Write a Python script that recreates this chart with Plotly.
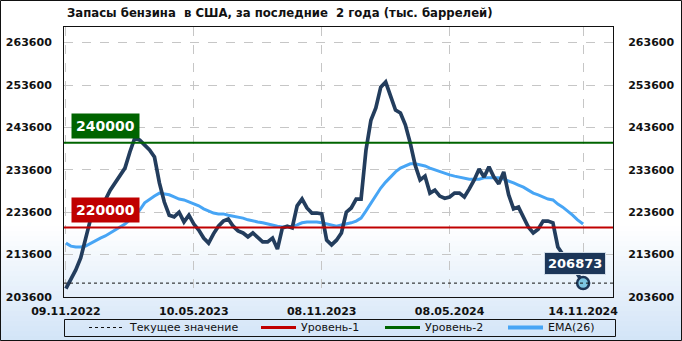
import plotly.graph_objects as go
import pandas as pd

# ---------------- data ----------------
title = "Запасы бензина  в США, за последние  2 года (тыс. баррелей)"
dates = list(pd.date_range("2022-11-09", periods=105, freq="7D").strftime("%Y-%m-%d")) + ["2024-11-14"]

stocks = [
    205600, 207600, 210000, 212800, 217500, 222200, 226500, 223600, 226500, 228800,
    230500, 232100, 234000, 237800, 241100, 240600, 239400, 238300, 236600, 230500,
    226000, 222900, 222500, 223600, 221300, 222900, 220800, 219400, 217500, 216300,
    218500, 220300, 221500, 222000, 220300, 219200, 218700, 217800, 218700, 217500,
    216600, 216600, 217500, 214900, 219900, 220300, 219900, 225100, 226700, 224600,
    223400, 223400, 223200, 217000, 215900, 217000, 218700, 223600, 224600, 226700,
    226700, 238300, 245300, 248200, 253100, 254300, 250800, 247700, 247000, 244200,
    239900, 234700, 231200, 232100, 228100, 228800, 227400, 226900, 227200, 228100,
    228100, 227200, 229100, 231200, 233800, 231900, 234300, 231900, 230300, 233100,
    227700, 224400, 224800, 222200, 220100, 218700, 219600, 221500, 221500, 221100,
    215400, 213700, 212600, 211400, 209000, 206873,
]

ema26 = [
    216300, 215600, 215400, 215400, 215600, 216300, 217000, 217500, 218000, 218700,
    219200, 219900, 220800, 221800, 222900, 224100, 225800, 226700, 227400, 228100,
    227900, 227700, 227200, 226700, 226500, 226000, 225500, 225100, 224400, 223900,
    223400, 223200, 223200, 222900, 222700, 222500, 222200, 221800, 221500, 221300,
    221100, 220800, 220600, 220300, 220100, 220100, 220300, 220600, 221100, 221300,
    221300, 221300, 221100, 220800, 220600, 220300, 220600, 220800, 221100, 221500,
    222200, 223900, 225800, 227700, 229300, 230700, 231900, 233100, 234000, 234500,
    235000, 235000, 234700, 234500, 234000, 233600, 233100, 232800, 232400, 232100,
    231900, 231700, 231400, 231400, 231400, 231700, 231700, 231700, 231700, 231400,
    231000, 230500, 230000, 229500, 228800, 228100, 227700, 227200, 226700, 226500,
    225500, 224800, 223900, 222900, 221800, 220800,
]

current_value = 206873
level1 = 220000
level2 = 240000
y_ticks = [203600, 213600, 223600, 233600, 243600, 253600, 263600]
x_tick_idx = [0, 26, 52, 78, 105]
legend_names = ["Текущее значение", "Уровень-1", "Уровень-2", "EMA(26)"]

# ---------------- style ----------------
W, H = 682, 341
L, R, T, B = 64, 69, 27, 44
PW, PH = W - L - R, H - T - B
FONT = "DejaVu Sans"
NAVY = "#233d5d"
BLUE = "#47a5f5"
RED = "#c00000"
GREEN = "#006400"
GRID = "#c6c6c6"


def px(x):
    return (x - L) / PW


def py(y):
    return (H - B - y) / PH


y_range = [203600, 267280]
x_range = ["2022-11-06 06:00", "2024-12-26 12:00"]

fig = go.Figure()

fig.add_trace(go.Scatter(x=dates, y=ema26, mode="lines", line=dict(color=BLUE, width=3),
                         showlegend=False, hoverinfo="skip"))
fig.add_trace(go.Scatter(x=dates, y=stocks, mode="lines", line=dict(color=NAVY, width=3.7),
                         showlegend=False))
fig.add_trace(go.Scatter(x=[dates[-1]], y=[current_value], mode="markers",
                         marker=dict(size=12, color="#7cc6e2", line=dict(color="#1c3658", width=2.5)),
                         showlegend=False))
# invisible trace for the right-hand axis
fig.add_trace(go.Scatter(x=[dates[0]], y=[y_ticks[0]], yaxis="y2", mode="markers",
                         marker=dict(opacity=0), showlegend=False, hoverinfo="skip"))

shapes = []
# background gradient (bottom part of the figure)
top_c = (255, 255, 255)
bot_c = (210, 228, 247)
start, end = 226, H
n = 23
step = (end - start) / n
for i in range(n):
    t = (i + 0.5) / n
    c = tuple(round(top_c[k] + (bot_c[k] - top_c[k]) * t) for k in range(3))
    shapes.append(dict(type="rect", xref="paper", yref="paper", layer="below",
                       x0=px(0), x1=px(W), y0=py(start + (i + 1) * step + 0.5), y1=py(start + i * step),
                       line=dict(width=0), fillcolor="rgb(%d,%d,%d)" % c))
# outer frame
shapes.append(dict(type="rect", xref="paper", yref="paper", x0=px(0.5), x1=px(W - 0.5),
                   y0=py(H - 0.5), y1=py(0.5), line=dict(color="#111111", width=1)))
# level lines and current-value line
shapes.append(dict(type="line", xref="paper", yref="y", x0=0, x1=1, y0=level1, y1=level1,
                   line=dict(color=RED, width=2)))
shapes.append(dict(type="line", xref="paper", yref="y", x0=0, x1=1, y0=level2, y1=level2,
                   line=dict(color=GREEN, width=2)))
shapes.append(dict(type="line", xref="paper", yref="y", x0=0, x1=1, y0=current_value, y1=current_value,
                   line=dict(color="#111111", width=1, dash="3px,3px")))

# legend box
lg_top, lg_bot = 319, 336
lg_mid = (lg_top + lg_bot) / 2
shapes.append(dict(type="rect", xref="paper", yref="paper", x0=px(64.5), x1=px(615.5),
                   y0=py(lg_bot + 0.5), y1=py(lg_top + 0.5), line=dict(color="#111111", width=1)))
leg_items = [
    (89, 122, 127, dict(color="#111111", width=1, dash="3px,3px")),
    (261, 296, 299, dict(color=RED, width=3)),
    (385, 420, 423, dict(color=GREEN, width=3)),
    (508, 543, 546, dict(color=BLUE, width=4)),
]
annotations = []
for (a, b, tx, ln), name in zip(leg_items, legend_names):
    shapes.append(dict(type="line", xref="paper", yref="paper", x0=px(a), x1=px(b),
                       y0=py(lg_mid), y1=py(lg_mid), line=ln))
    annotations.append(dict(xref="paper", yref="paper", x=px(tx), y=py(lg_mid), text=name,
                            showarrow=False, xanchor="left", yanchor="middle",
                            font=dict(family=FONT, size=11, color="#111111")))

# level labels
for lvl, col in ((level2, GREEN), (level1, RED)):
    annotations.append(dict(xref="paper", yref="y", x=px(71), y=lvl, text="<b>%d</b>" % lvl,
                            showarrow=False, xanchor="left", yanchor="bottom", yshift=4,
                            bgcolor=col, borderpad=4,
                            font=dict(family=FONT, size=14, color="white")))
# current value label
annotations.append(dict(xref="x", yref="y", x=dates[-1], y=current_value, text="<b>%d</b>" % current_value,
                        showarrow=False, xanchor="center", yanchor="bottom", xshift=-8, yshift=8,
                        bgcolor="#1c3658", bordercolor="#d0dbe6", borderwidth=1, borderpad=3,
                        font=dict(family=FONT, size=13, color="white")))

axis_common = dict(showline=True, linecolor="#111111", linewidth=1, zeroline=False, automargin=False,
                   tickfont=dict(family=FONT, size=11, color="#111111", weight="bold"))

fig.update_layout(
    width=W, height=H, autosize=False,
    margin=dict(l=L, r=R, t=T, b=B, pad=0, autoexpand=False),
    paper_bgcolor="white", plot_bgcolor="rgba(0,0,0,0)",
    title=dict(text="<b>%s</b>" % title, x=67 / W, xanchor="left", automargin=False,
               y=1 - 13 / H, yanchor="middle", font=dict(family=FONT, size=11.7, color="#111111")),
    xaxis=dict(type="date", range=x_range, tickvals=[dates[i] for i in x_tick_idx],
               ticktext=[pd.Timestamp(dates[i]).strftime("%d.%m.%Y") for i in x_tick_idx],
               showgrid=True, gridcolor=GRID, griddash="dash", gridwidth=1, mirror=True,
               ticks="outside", ticklen=4, tickcolor="rgba(0,0,0,0)", **axis_common),
    yaxis=dict(range=y_range, tickvals=y_ticks, tickformat="d", showgrid=True, gridcolor=GRID,
               griddash="dash", gridwidth=1, mirror=True, ticks="outside", ticklen=9,
               tickcolor="rgba(0,0,0,0)", **axis_common),
    yaxis2=dict(range=y_range, tickvals=y_ticks, tickformat="d", overlaying="y", side="right",
                showgrid=False, zeroline=False, showline=False, ticks="outside", ticklen=12,
                tickcolor="rgba(0,0,0,0)", automargin=False,
                tickfont=dict(family=FONT, size=11, color="#111111", weight="bold")),
    shapes=shapes, annotations=annotations, showlegend=False,
)

fig.write_html("out.html")
